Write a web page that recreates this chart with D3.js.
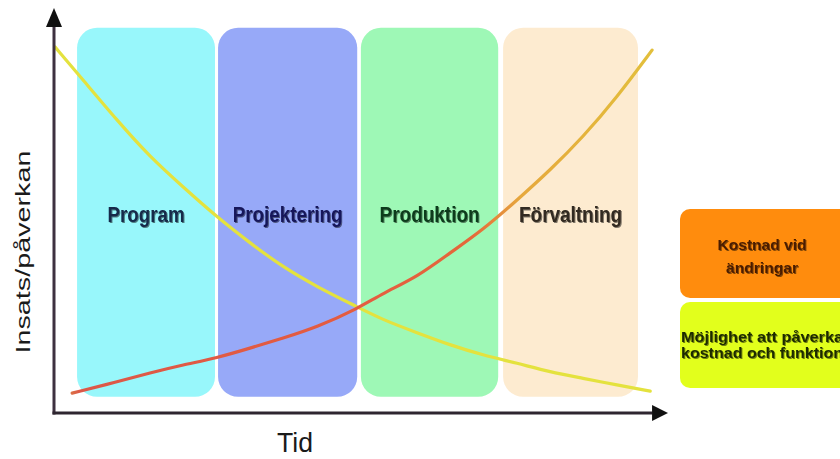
<!DOCTYPE html>
<html>
<head>
<meta charset="utf-8">
<script src="https://cdn.jsdelivr.net/npm/d3@7"></script>
<style>
  html, body { margin: 0; padding: 0; background: #fff; }
  svg { display: block; font-family: "Liberation Sans", Arial, sans-serif; }
</style>
</head>
<body>
<svg id="chart" width="840" height="459"></svg>
<script>
// Project phases along the time axis (start/end in time units, 0–100)
const phaseNames = ["Program", "Projektering", "Produktion", "Förvaltning"];
const phaseStart = [3.6, 26.6, 49.9, 73.1];
const phaseEnd   = [26.1, 49.3, 72.3, 95.1];
const phaseLow = 4.0, phaseHigh = 95.1;

// Cost of making changes, rising over time
const costT = [2.8, 10.1, 15.5, 20.9, 26.4, 31.8, 37.2, 42.7, 49.3, 53.5, 59.1, 64.4, 69.8, 75.4, 80.8, 86.1, 91.7, 97.4];
const costV = [4.9, 7.7, 9.9, 11.9, 13.6, 16.0, 18.5, 21.2, 25.7, 29.6, 33.6, 39.5, 45.2, 52.6, 60.0, 68.1, 78.0, 89.6];

// Possibility to influence cost and function, falling over time
const inflT = [0, 4.6, 10.1, 15.5, 20.9, 26.4, 31.8, 37.2, 42.8, 49.3, 53.5, 59.1, 64.4, 69.8, 75.4, 80.8, 86.1, 91.7, 97.1];
const inflV = [90.4, 82.2, 72.3, 63.2, 55.8, 48.4, 42.0, 36.0, 31.1, 26.2, 23.0, 19.8, 16.8, 14.3, 12.3, 10.1, 8.6, 6.9, 5.4];

const legendLabels = [["Kostnad vid", "ändringar"], ["Möjlighet att påverka", "kostnad och funktion"]];

const phaseFill = ["#98f7fb", "#97a9f8", "#9ef8b6", "#fdebd0"];
const phaseText = ["#15294a", "#17195a", "#0d3a1c", "#332a20"];

const svg = d3.select("#chart");
const x = d3.scaleLinear().domain([0, 100]).range([55, 668]);
const y = d3.scaleLinear().domain([0, 100]).range([413, 8]);

// soft edge on the panels
const defs = svg.append("defs");
const glow = defs.append("filter").attr("id", "glow").attr("x", "-10%").attr("y", "-10%").attr("width", "120%").attr("height", "120%");
glow.append("feGaussianBlur").attr("stdDeviation", 0.6);

const textShadow = defs.append("filter").attr("id", "tshadow").attr("x", "-5%").attr("y", "-20%").attr("width", "110%").attr("height", "140%");
textShadow.append("feGaussianBlur").attr("in", "SourceAlpha").attr("stdDeviation", 0.7).attr("result", "b");
textShadow.append("feOffset").attr("in", "b").attr("dx", 0.6).attr("dy", 0.8).attr("result", "o");
textShadow.append("feComponentTransfer").attr("in", "o").attr("result", "s")
  .append("feFuncA").attr("type", "linear").attr("slope", 0.5);
const tm = textShadow.append("feMerge");
tm.append("feMergeNode").attr("in", "s");
tm.append("feMergeNode").attr("in", "SourceGraphic");

// phase panels
const phases = phaseNames.map((n, i) => ({ name: n, s: phaseStart[i], e: phaseEnd[i], i }));
svg.append("g").selectAll("rect").data(phases).join("rect")
  .attr("x", d => x(d.s))
  .attr("y", y(phaseHigh))
  .attr("width", d => x(d.e) - x(d.s))
  .attr("height", y(phaseLow) - y(phaseHigh))
  .attr("rx", 20).attr("ry", 20)
  .attr("fill", d => phaseFill[d.i])
  .attr("filter", "url(#glow)");

const phaseWidths = [77, 110, 100, 103];
svg.append("g").selectAll("text").data(phases).join("text")
  .attr("transform", d => `translate(${(x(d.s) + x(d.e)) / 2},222) scale(1,1.08)`)
  .attr("text-anchor", "middle")
  .attr("font-size", 20)
  .attr("font-weight", "bold")
  .attr("textLength", d => phaseWidths[d.i])
  .attr("lengthAdjust", "spacingAndGlyphs")
  .attr("fill", d => phaseText[d.i])
  .attr("filter", "url(#tshadow)")
  .text(d => d.name);

// curves
const line = d3.line().x(d => x(d[0])).y(d => y(d[1])).curve(d3.curveBasis);

const grad = defs.append("linearGradient").attr("id", "costGrad")
  .attr("gradientUnits", "userSpaceOnUse")
  .attr("x1", x(0)).attr("x2", x(100)).attr("y1", 0).attr("y2", 0);
[[0, "#d8a040"], [0.04, "#dc5848"], [0.5, "#e45c40"], [0.68, "#e4683a"], [0.76, "#e6a83c"], [1, "#e2c23c"]]
  .forEach(([o, c]) => grad.append("stop").attr("offset", o).attr("stop-color", c));

svg.append("path")
  .datum(inflT.map((t, i) => [t, inflV[i]]))
  .attr("d", line)
  .attr("fill", "none")
  .attr("stroke", "#e4e23e")
  .attr("stroke-width", 3.2)
  .attr("stroke-linecap", "round");

svg.append("path")
  .datum(costT.map((t, i) => [t, costV[i]]))
  .attr("d", line)
  .attr("fill", "none")
  .attr("stroke", "url(#costGrad)")
  .attr("stroke-width", 3.2)
  .attr("stroke-linecap", "round");

// axes with arrow heads
const axisColor = "#2e2630";
const x0 = x(0) - 1, y0 = y(0);
svg.append("line").attr("x1", x0).attr("y1", y0 + 1.5).attr("x2", x0).attr("y2", y(95.5))
  .attr("stroke", "#3e3140").attr("stroke-width", 3);
svg.append("path")
  .attr("d", `M${x0},${y(100)} L${x0 - 8},${y(95.3)} L${x0 + 8},${y(95.3)} Z`)
  .attr("fill", "#111");
svg.append("line").attr("x1", x0 - 1.5).attr("y1", y0).attr("x2", x(97.5)).attr("y2", y0)
  .attr("stroke", axisColor).attr("stroke-width", 3);
svg.append("path")
  .attr("d", `M${x(100)},${y0} L${x(97.4)},${y0 - 8} L${x(97.4)},${y0 + 8} Z`)
  .attr("fill", "#111");

// axis titles
svg.append("text")
  .attr("transform", "translate(295,452) scale(1,1.08)")
  .attr("text-anchor", "middle")
  .attr("font-size", 26)
  .attr("textLength", 36).attr("lengthAdjust", "spacingAndGlyphs")
  .attr("fill", "#1a1a1a")
  .text("Tid");

svg.append("text")
  .attr("transform", "translate(30,252) rotate(-90)")
  .attr("text-anchor", "middle")
  .attr("font-size", 21)
  .attr("textLength", 203).attr("lengthAdjust", "spacingAndGlyphs")
  .attr("fill", "#1a1a1a")
  .text("Insats/påverkan");

// legend boxes
const legendFill = ["#ff8c0c", "#e2ff1c"];
const legendInk = ["#4a1c02", "#1e2c00"];
const legendTop = [209, 302];
const legendH = [89, 86];
const legendWidths = [[89, 72], [162, 162]];
const legendBase = [[250, 273], [342, 358]];

legendLabels.forEach((lines, i) => {
  svg.append("rect")
    .attr("x", 680).attr("y", legendTop[i])
    .attr("width", 180).attr("height", legendH[i])
    .attr("rx", 10).attr("ry", 10)
    .attr("fill", legendFill[i])
    .attr("filter", "url(#glow)");
  lines.forEach((t, j) => {
    svg.append("text")
      .attr("transform", `translate(762,${legendBase[i][j]}) scale(1,1.1)`)
      .attr("text-anchor", "middle")
      .attr("font-size", 14)
      .attr("font-weight", "bold")
      .attr("textLength", legendWidths[i][j]).attr("lengthAdjust", "spacingAndGlyphs")
      .attr("fill", legendInk[i])
      .attr("filter", "url(#tshadow)")
      .text(t);
  });
});
</script>
</body>
</html>
